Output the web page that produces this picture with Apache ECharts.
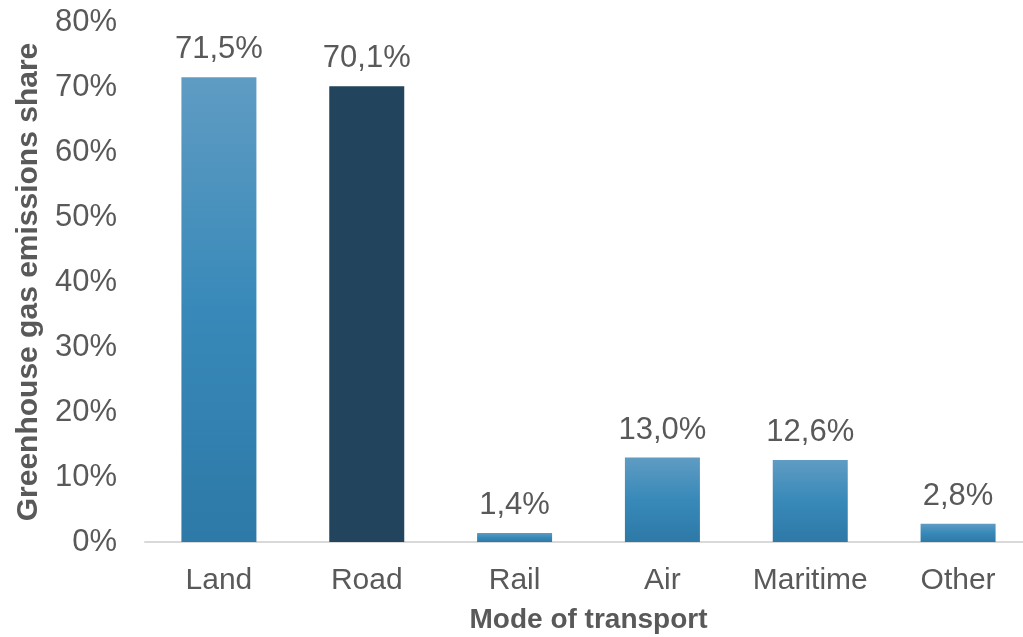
<!DOCTYPE html>
<html>
<head>
<meta charset="utf-8">
<style>
  html, body { margin: 0; padding: 0; background: #ffffff; }
  #chart { width: 1023px; height: 637px; }
</style>
<script src="https://cdn.jsdelivr.net/npm/echarts@6/dist/echarts.min.js"></script>
</head>
<body>
<div id="chart"></div>
<script>
// Share of transport greenhouse gas emissions by mode (%)
const categories = ['Land', 'Road', 'Rail', 'Air', 'Maritime', 'Other'];
const shares = [71.5, 70.1, 1.4, 13.0, 12.6, 2.8];
const yTicks = { min: 0, max: 80, interval: 10 };

const textColor = '#595959';
const fontFamily = '"Liberation Sans", Arial, sans-serif';

// Blue gradient for the modes, solid navy for the highlighted road bar
const blueGradient = new echarts.graphic.LinearGradient(0, 0, 0, 1, [
  { offset: 0, color: '#5f9cc3' },
  { offset: 0.5, color: '#3889b9' },
  { offset: 1, color: '#2d79a7' }
]);
const roadColor = '#22445c';

const barData = shares.map((v, i) => ({
  value: v,
  itemStyle: { color: categories[i] === 'Road' ? roadColor : blueGradient }
}));

const chart = echarts.init(document.getElementById('chart'), null, { renderer: 'canvas' });
chart.setOption({
  animation: false,
  textStyle: { fontFamily: fontFamily },
  grid: { left: 145, right: -9, top: 22, bottom: 95, containLabel: false, outerBoundsMode: 'none' },
  xAxis: {
    type: 'category',
    data: categories,
    name: 'Mode of transport',
    nameLocation: 'middle',
    nameGap: 64,
    nameTextStyle: { color: textColor, fontSize: 28, fontWeight: 'bold', fontFamily: fontFamily },
    axisLine: { lineStyle: { color: '#d9d9d9', width: 2 } },
    axisTick: { show: false },
    axisLabel: { color: textColor, fontSize: 30, margin: 24, interval: 0, fontFamily: fontFamily }
  },
  yAxis: {
    type: 'value',
    min: yTicks.min,
    max: yTicks.max,
    interval: yTicks.interval,
    name: 'Greenhouse gas emissions share',
    nameLocation: 'middle',
    nameGap: 101,
    nameTextStyle: { color: textColor, fontSize: 30, fontWeight: 'bold', fontFamily: fontFamily },
    axisLine: { show: false },
    axisTick: { show: false },
    splitLine: { show: false },
    axisLabel: { color: textColor, fontSize: 31, margin: 28, formatter: '{value}%', fontFamily: fontFamily }
  },
  series: [{
    type: 'bar',
    data: barData,
    barWidth: 75,
    label: {
      show: true,
      position: 'top',
      distance: 12,
      color: textColor,
      fontSize: 31,
      fontFamily: fontFamily,
      formatter: p => p.value.toFixed(1).replace('.', ',') + '%'
    }
  }]
});
</script>
</body>
</html>
